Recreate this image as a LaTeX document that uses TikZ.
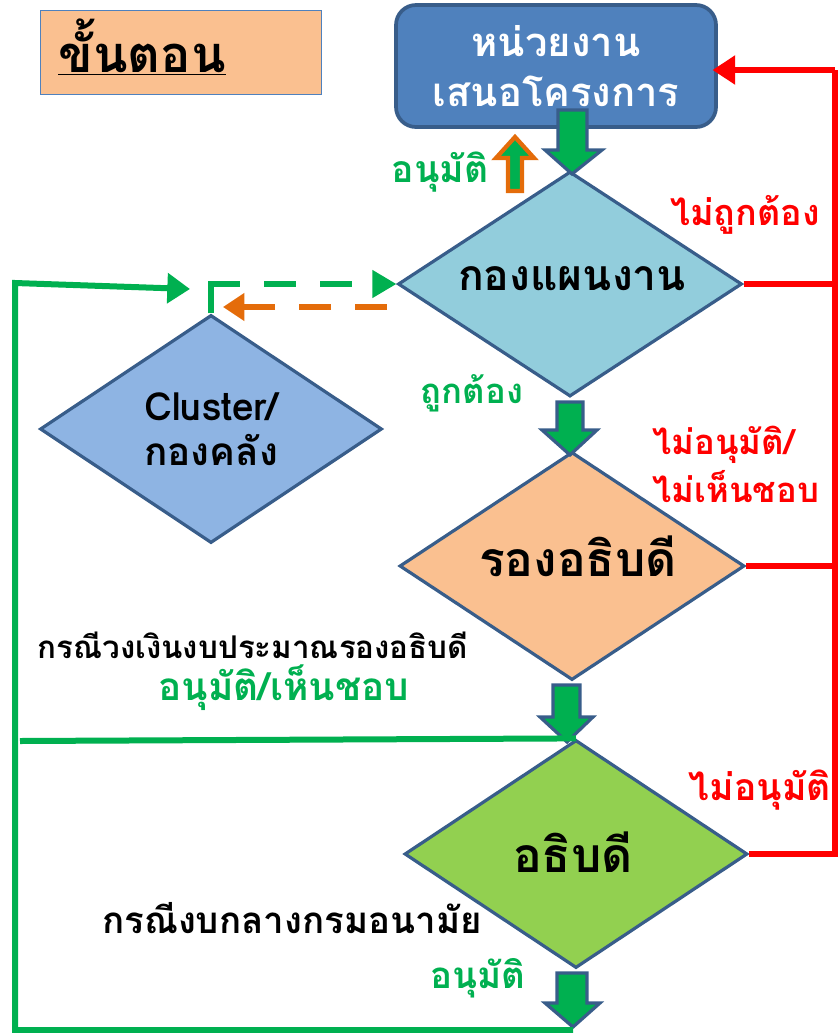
\documentclass[tikz,border=0pt]{standalone}
\usepackage{fontspec}
\newfontfamily\thaifont[Script=Thai]{Loma}
\usetikzlibrary{arrows.meta,shapes.geometric}

\definecolor{boxblue}{HTML}{4F81BD}
\definecolor{edgeblue}{HTML}{385D8A}
\definecolor{planfill}{HTML}{92CDDC}
\definecolor{clusterfill}{HTML}{8EB4E3}
\definecolor{peach}{HTML}{FAC090}
\definecolor{leaf}{HTML}{92D050}
\definecolor{okgreen}{HTML}{00B050}
\definecolor{nored}{HTML}{FF0000}
\definecolor{backorange}{HTML}{E46C0A}

\tikzset{
  px/.style={x=0.75pt,y=-0.75pt},
  decision/.style={diamond, draw=edgeblue, line width=2.4pt, inner sep=0pt,
    font=\thaifont\bfseries, align=center, text=black},
  redline/.style={draw=nored, line width=4.5pt},
  greenline/.style={draw=okgreen, line width=4.5pt},
  redtip/.style={-{Triangle[length=17pt,width=21pt]}},
  greentip/.style={-{Triangle[length=17pt,width=22pt]}},
  note/.style={font=\thaifont\bfseries, inner sep=0pt},
  blockarrow/.style={draw=edgeblue, fill=okgreen, line width=2.4pt, line join=miter},
}

\begin{document}
\begin{tikzpicture}[px]
\useasboundingbox (0,0) rectangle (839,1033);

% title
\node[draw=boxblue, line width=0.8pt, fill=peach, minimum width=210.75pt, minimum height=63pt,
  anchor=north west] (title) at (40,10) {};
\node[note, font=\thaifont\bfseries\fontsize{38}{42}\selectfont] (titletext) at (142,47)
  {\underline{ขั้นตอน}};

% proposing unit
\node[draw=edgeblue, fill=boxblue, line width=2.8pt, rounded corners=15pt,
  minimum width=240pt, minimum height=91.5pt, text=white, align=center, inner sep=0pt,
  font=\thaifont\bfseries\fontsize{30}{37.5}\selectfont] (unit) at (556,66)
  {หน่วยงาน\\เสนอโครงการ};

% decisions
\node[decision, fill=planfill, minimum width=258pt, minimum height=168.75pt] (plan) at (570,284) {};
\node[note, font=\thaifont\bfseries\fontsize{32}{36}\selectfont] (plantext) at (572,279) {กองแผนงาน};
\node[decision, fill=clusterfill, minimum width=256.5pt, minimum height=171pt,
  font=\thaifont\bfseries\fontsize{29}{34}\selectfont] (cluster) at (211,429) {Cluster/\\กองคลัง};
\node[decision, fill=peach, minimum width=258.75pt, minimum height=171pt] (deputy) at (572,566) {};
\node[note, font=\thaifont\bfseries\fontsize{36}{40}\selectfont] (deputytext) at (578,556) {รองอธิบดี};
\node[decision, fill=leaf, minimum width=257.25pt, minimum height=171pt] (director) at (576,854) {};
\node[note, font=\thaifont\bfseries\fontsize{36}{40}\selectfont] (directortext) at (573,852) {อธิบดี};

% main flow block arrows
\draw[blockarrow] (558,110) -- (587,110) -- (587,150) -- (602,150) -- (572,174) -- (545,150) -- (558,150) -- cycle;
\draw[blockarrow] (557,402) -- (583,402) -- (583,430) -- (597,430) -- (570,455) -- (542,430) -- (557,430) -- cycle;
\draw[blockarrow] (553,685) -- (580,685) -- (580,717) -- (593,717) -- (567,742) -- (540,717) -- (553,717) -- cycle;
\draw[blockarrow] (557,973) -- (587,973) -- (587,1003) -- (600,1003) -- (573,1027) -- (545,1003) -- (557,1003) -- cycle;

% approval going back up
\draw[draw=backorange, fill=okgreen, line width=3.2pt, line join=miter]
  (508,191) -- (522,191) -- (522,158) -- (534,158) -- (515,137) -- (496,158) -- (508,158) -- cycle;

% rejections back to the proposing unit
\coordinate (rtop) at (835,70);
\draw[redline] (director.east) -- (director.east -| rtop) -- (rtop);
\draw[redline] (deputy.east) -- (deputy.east -| rtop);
\draw[redline] (plan.east) -- (plan.east -| rtop);
\draw[redline, redtip, shorten >=-4pt] (rtop) -- (unit.east |- rtop);

% cluster <-> plan
\coordinate (corner) at (211,284);
\draw[draw=okgreen, line width=4pt] (cluster.north) -- ([yshift=-2pt]corner);
\draw[draw=okgreen, line width=4pt, dash pattern=on 24pt off 18pt,
  -{Triangle[length=18pt,width=20pt]}] ([xshift=-2pt]corner) -- (plan.west);
\coordinate (ostart) at (387,307);
\coordinate (oend) at (223,307);
\draw[draw=backorange, line width=4pt, dash pattern=on 24pt off 18pt,
  -{Triangle[length=16pt,width=20pt]}] (ostart) -- (oend);

% approved: budget loops back to cluster
\coordinate (loopbottom) at (15,1030);
\coordinate (looptop) at (15,283);
\coordinate (loopend) at (190,289);
\draw[greenline, greentip, line join=miter] (573,1030) -- (loopbottom) -- (looptop) -- (loopend);
\coordinate (midleft) at (20,741);
\draw[greenline] (director.north) -- (midleft);

% labels
\node[note, text=okgreen, font=\thaifont\bfseries\fontsize{28}{30}\selectfont] (l1) at (440,172) {อนุมัติ};
\node[note, text=nored, font=\thaifont\bfseries\fontsize{27}{30}\selectfont] (l2) at (745,215) {ไม่ถูกต้อง};
\node[note, text=okgreen, font=\thaifont\bfseries\fontsize{26}{30}\selectfont] (l3) at (472,393) {ถูกต้อง};
\node[note, text=nored, align=left, anchor=west, font=\thaifont\bfseries\fontsize{26}{36}\selectfont]
  (l4) at (652,464) {ไม่อนุมัติ/\\ไม่เห็นชอบ};
\node[note, text=nored, font=\thaifont\bfseries\fontsize{28}{30}\selectfont] (l5) at (760,790) {ไม่อนุมัติ};
\node[note, text=black, font=\thaifont\bfseries\fontsize{23.5}{26}\selectfont] (l6) at (253,645) {กรณีวงเงินงบประมาณรองอธิบดี};
\node[note, text=okgreen, font=\thaifont\bfseries\fontsize{29}{32}\selectfont] (l7) at (284,688) {อนุมัติ/เห็นชอบ};
\node[note, text=black, font=\thaifont\bfseries\fontsize{27.5}{30}\selectfont] (l8) at (292,918) {กรณีงบกลางกรมอนามัย};
\node[note, text=okgreen, font=\thaifont\bfseries\fontsize{27.5}{30}\selectfont] (l9) at (478,978) {อนุมัติ};
\end{tikzpicture}
\end{document}
